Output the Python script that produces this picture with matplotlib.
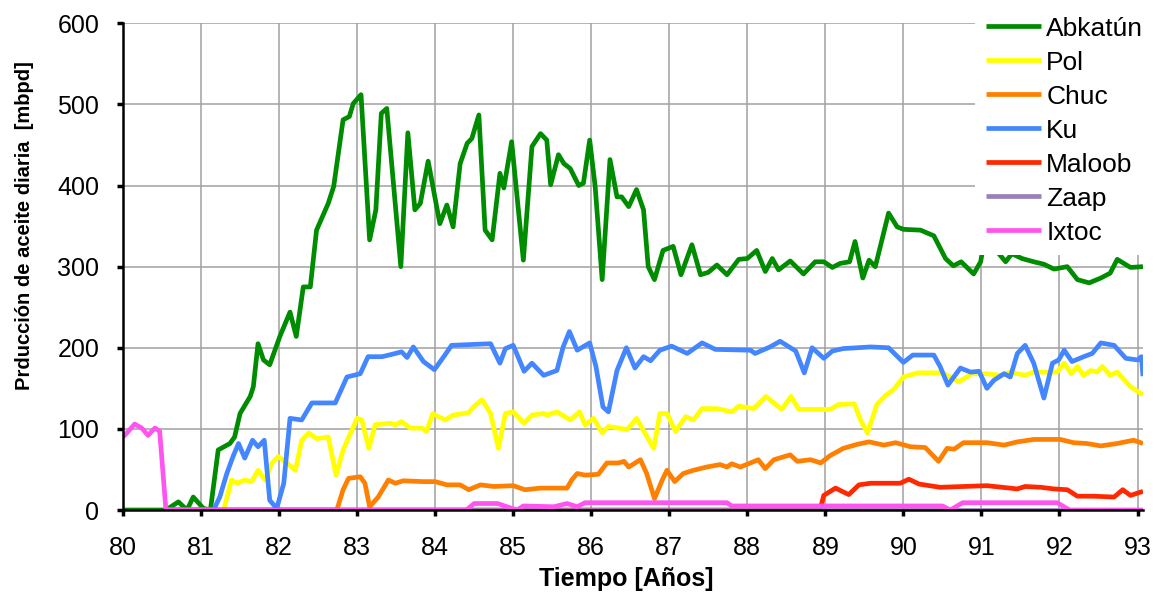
import matplotlib
matplotlib.use("Agg")
import matplotlib.pyplot as plt

plt.rcParams['font.family'] = ['Liberation Sans', 'DejaVu Sans']

# series: (year, mbpd) pairs per field
abkatun_t = [80.0, 80.55, 80.71, 80.82, 80.9, 81.03, 81.12, 81.22, 81.37, 81.43, 81.5, 81.63, 81.67,
             81.73, 81.8, 81.88, 82.01, 82.14, 82.22, 82.31, 82.4, 82.48, 82.63, 82.7, 82.82, 82.9,
             82.95, 83.05, 83.16, 83.24, 83.31, 83.38, 83.56, 83.65, 83.74, 83.81, 83.91, 84.06, 84.15,
             84.23, 84.32, 84.41, 84.47, 84.56, 84.64, 84.73, 84.83, 84.88, 84.98, 85.13, 85.24, 85.35,
             85.43, 85.48, 85.58, 85.65, 85.73, 85.84, 85.9, 85.98, 86.05, 86.14, 86.24, 86.33, 86.39,
             86.48, 86.58, 86.67, 86.73, 86.81, 86.92, 87.05, 87.15, 87.29, 87.4, 87.5, 87.61, 87.74,
             87.89, 88.0, 88.12, 88.23, 88.32, 88.4, 88.55, 88.72, 88.87, 88.98, 89.09, 89.19, 89.31,
             89.38, 89.48, 89.56, 89.64, 89.81, 89.92, 90.0, 90.22, 90.39, 90.54, 90.64, 90.74, 90.9,
             90.99, 91.05, 91.18, 91.31, 91.39, 91.52, 91.67, 91.8, 91.93, 92.1, 92.23, 92.38, 92.53,
             92.65, 92.74, 92.91, 93.07]
abkatun_v = [0, 0, 10, 0, 16, 2, 0, 74, 82, 90, 119, 140, 152,
             205, 185, 179, 214, 244, 214, 275, 275, 345, 378, 399, 481, 485,
             501, 512, 333, 370, 489, 495, 300, 465, 370, 378, 430, 353, 376,
             349, 427, 452, 458, 487, 345, 333, 415, 397, 454, 308, 448, 464,
             456, 401, 438, 427, 421, 400, 403, 456, 399, 284, 432, 386, 386,
             374, 395, 370, 300, 284, 320, 325, 290, 327, 290, 293, 302, 290,
             309, 310, 320, 294, 310, 296, 307, 291, 306, 306, 299, 304, 306,
             331, 286, 308, 300, 366, 349, 346, 345, 338, 310, 301, 306, 291,
             306, 340, 321, 306, 316, 310, 306, 303, 297, 300, 284, 280, 286,
             292, 309, 299, 300]

pol_t = [80.55, 81.29, 81.39, 81.46, 81.56, 81.65, 81.73, 81.82, 81.91, 81.99, 82.1, 82.21, 82.29,
         82.38, 82.48, 82.63, 82.73, 82.82, 83.0, 83.06, 83.15, 83.23, 83.42, 83.49, 83.57, 83.68,
         83.83, 83.89, 83.97, 84.04, 84.13, 84.23, 84.43, 84.49, 84.6, 84.71, 84.81, 84.9, 85.0,
         85.14, 85.24, 85.39, 85.43, 85.56, 85.73, 85.85, 85.92, 86.03, 86.14, 86.22, 86.35, 86.46,
         86.58, 86.8, 86.88, 86.97, 87.08, 87.21, 87.31, 87.42, 87.61, 87.8, 87.89, 88.08, 88.24,
         88.44, 88.56, 88.66, 89.06, 89.17, 89.37, 89.45, 89.54, 89.66, 89.77, 89.88, 90.0, 90.11,
         90.18, 90.5, 90.71, 90.88, 91.07, 91.24, 91.37, 91.56, 91.67, 91.97, 92.06, 92.15, 92.23,
         92.31, 92.4, 92.48, 92.55, 92.65, 92.74, 92.91, 93.07]
pol_v = [0, 0, 37, 33, 37, 35, 49, 37, 58, 66, 58, 49, 86,
         95, 88, 90, 43, 74, 113, 111, 76, 105, 107, 105, 109, 101,
         101, 97, 119, 115, 111, 117, 120, 127, 136, 119, 76, 119, 121,
         107, 117, 119, 117, 121, 111, 121, 105, 113, 95, 103, 101, 99,
         113, 76, 119, 119, 97, 115, 111, 125, 125, 121, 128, 125, 140,
         124, 140, 124, 124, 130, 131, 111, 95, 130, 141, 149, 164, 167,
         169, 169, 158, 168, 168, 166, 170, 166, 170, 170, 181, 168, 177,
         166, 172, 170, 177, 166, 170, 152, 142]

chuc_t = [80.55, 82.74, 82.82, 82.89, 83.04, 83.1, 83.16, 83.27, 83.4, 83.49, 83.59, 83.85, 84.0,
          84.15, 84.32, 84.43, 84.58, 84.75, 85.0, 85.15, 85.35, 85.69, 85.75, 85.82, 85.92, 86.09,
          86.2, 86.35, 86.42, 86.48, 86.63, 86.71, 86.81, 86.91, 86.97, 87.07, 87.18, 87.31, 87.48,
          87.65, 87.74, 87.8, 87.91, 88.04, 88.14, 88.23, 88.34, 88.55, 88.64, 88.81, 88.94, 89.06,
          89.23, 89.41, 89.56, 89.75, 89.9, 90.09, 90.28, 90.37, 90.45, 90.56, 90.65, 90.77, 91.07,
          91.29, 91.46, 91.67, 92.01, 92.18, 92.35, 92.53, 92.74, 92.95, 93.07]
chuc_v = [0, 0, 25, 39, 41, 33, 4, 16, 37, 33, 36, 35, 35,
          31, 31, 25, 31, 29, 30, 25, 27, 27, 37, 45, 43, 44,
          58, 58, 60, 53, 62, 45, 14, 37, 49, 35, 45, 49, 53,
          56, 53, 57, 53, 58, 62, 51, 62, 68, 60, 62, 58, 67,
          76, 81, 84, 80, 83, 78, 77, 68, 60, 76, 75, 83, 83,
          80, 84, 87, 87, 83, 82, 79, 82, 86, 82]

ku_t = [80.55, 81.16, 81.24, 81.33, 81.41, 81.48, 81.56, 81.66, 81.73, 81.81, 81.88, 81.97, 82.06,
        82.14, 82.29, 82.42, 82.72, 82.87, 83.04, 83.14, 83.32, 83.45, 83.57, 83.64, 83.72, 83.85,
        83.99, 84.11, 84.21, 84.71, 84.83, 84.9, 85.0, 85.14, 85.24, 85.39, 85.56, 85.64, 85.72,
        85.82, 85.98, 86.06, 86.15, 86.22, 86.33, 86.45, 86.56, 86.67, 86.76, 86.88, 87.03, 87.23,
        87.42, 87.59, 88.04, 88.1, 88.29, 88.42, 88.62, 88.73, 88.83, 88.98, 89.09, 89.23, 89.58,
        89.81, 90.0, 90.12, 90.39, 90.47, 90.57, 90.73, 90.86, 90.97, 91.07, 91.16, 91.29, 91.37,
        91.46, 91.56, 91.67, 91.8, 91.91, 91.99, 92.06, 92.16, 92.31, 92.42, 92.53, 92.7, 92.85,
        93.0, 93.05, 93.07]
ku_v = [0, 0, 16, 45, 66, 82, 64, 86, 78, 86, 12, 2, 33,
        113, 111, 132, 132, 164, 168, 189, 189, 192, 195, 188, 201, 183,
        173, 189, 203, 205, 181, 199, 203, 171, 181, 166, 172, 201, 220,
        197, 206, 177, 127, 121, 172, 200, 175, 189, 184, 197, 202, 193,
        206, 198, 197, 193, 201, 208, 196, 169, 200, 187, 196, 199, 201,
        200, 182, 191, 191, 177, 154, 175, 170, 171, 150, 160, 168, 164,
        193, 203, 181, 138, 181, 185, 197, 183, 189, 193, 206, 203, 187,
        185, 189, 165]

maloob_t = [80.55, 88.93, 88.98, 89.13, 89.3, 89.43, 89.58, 89.96, 90.07, 90.2, 90.47, 91.07, 91.46,
            91.56, 91.76, 91.93, 92.1, 92.23, 92.44, 92.7, 92.81, 92.91, 93.07]
maloob_v = [0, 0, 18, 27, 19, 31, 33, 33, 38, 32, 28, 30, 26,
            29, 28, 26, 25, 17, 17, 16, 25, 18, 23]

zaap_t = [80.55, 93.07]
zaap_v = [0, 0]

ixtoc_t = [80.0, 80.05, 80.15, 80.24, 80.32, 80.41, 80.47, 80.55, 84.4, 84.5, 84.8, 84.92, 85.05,
           85.13, 85.52, 85.69, 85.82, 85.92, 87.74, 87.8, 90.5, 90.6, 90.76, 91.97, 92.13, 93.07]
ixtoc_v = [90, 95, 106, 101, 92, 101, 97, 0, 0, 8, 8, 4, 0,
           5, 4, 8, 4, 9, 9, 5, 5, 0, 9, 9, 0, 0]

series = [
    ("Abkatún", abkatun_t, abkatun_v, "#008C00"),
    ("Pol", pol_t, pol_v, "#FFFF00"),
    ("Chuc", chuc_t, chuc_v, "#FF8000"),
    ("Ku", ku_t, ku_v, "#4486FF"),
    ("Maloob", maloob_t, maloob_v, "#FF2800"),
    ("Zaap", zaap_t, zaap_v, "#9880B8"),
    ("Ixtoc", ixtoc_t, ixtoc_v, "#FF55F0"),
]

fig = plt.figure(figsize=(11.55, 5.94), dpi=100)
ax = fig.add_axes([0.1065, 0.1414, 0.8831, 0.8194])

for name, t, v, c in series:
    ax.plot(t, v, color=c, lw=3.4, label=name, solid_joinstyle="round", solid_capstyle="butt")

ax.set_xlim(80, 93.07)
ax.set_ylim(0, 600)
ax.set_xticks(range(80, 94))
ax.set_yticks(range(0, 601, 100))
ax.grid(True, color="#A0A0A0", lw=1.1)
ax.set_axisbelow(True)

for s in ["top", "right"]:
    ax.spines[s].set_visible(False)
for s in ["left", "bottom"]:
    ax.spines[s].set_color("black")
    ax.spines[s].set_linewidth(1.8)

ax.tick_params(axis="both", direction="out", length=4, width=2.5, colors="black", labelsize=18)
ax.tick_params(axis="x", pad=15)
ax.tick_params(axis="y", pad=13)

ax.set_xlabel("Tiempo [Años]", fontsize=18, fontweight="bold")
ax.set_ylabel("Prducción de aceite diaria  [mbpd]", fontsize=14.5, fontweight="bold")
ax.xaxis.set_label_coords(0.4936, -0.118)
ax.yaxis.set_label_coords(-0.0966, 0.585)
ax.yaxis.label.set_va("center")
ax.xaxis.label.set_va("top")

leg = ax.legend(loc="upper left", bbox_to_anchor=(975 / 1155, 1 - 6 / 594),
                bbox_transform=fig.transFigure, fontsize=19, frameon=True,
                handlelength=2.1, handletextpad=0.2, labelspacing=0.38,
                borderpad=0.4, borderaxespad=0, fancybox=False)
leg.get_frame().set_facecolor("white")
leg.get_frame().set_edgecolor("none")
leg.get_frame().set_alpha(1)

fig.savefig("out.png", dpi=100)
